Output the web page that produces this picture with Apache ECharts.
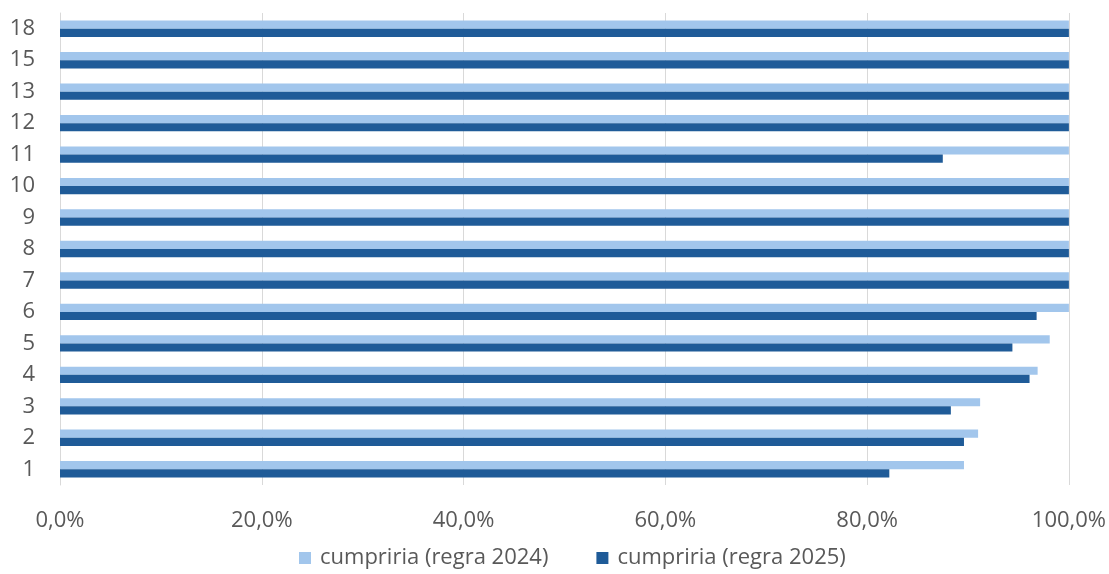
<!DOCTYPE html>
<html>
<head>
<meta charset="utf-8">
<script src="https://cdn.jsdelivr.net/npm/echarts@6/dist/echarts.min.js"></script>
<style>html,body{margin:0;padding:0;background:#fff}#c{width:1109px;height:574px}</style>
</head>
<body>
<div id="c"></div>
<script>
const categories = ['1','2','3','4','5','6','7','8','9','10','11','12','13','15','18'];
const rule2024 = [89.6, 91.0, 91.2, 96.9, 98.1, 100, 100, 100, 100, 100, 100, 100, 100, 100, 100];
const rule2025 = [82.2, 89.6, 88.3, 96.1, 94.4, 96.8, 100, 100, 100, 100, 87.5, 100, 100, 100, 100];
const xTicks = [0, 20, 40, 60, 80, 100];
const seriesNames = ['cumpriria (regra 2024)', 'cumpriria (regra 2025)'];

const chart = echarts.init(document.getElementById('c'));
const font = '"Open Sans", "Noto Sans", sans-serif';
chart.setOption({
  animation: false,
  textStyle: {fontFamily: font},
  grid: {left: 60, right: 40, top: 13, bottom: 89, containLabel: false},
  legend: {
    data: seriesNames,
    bottom: 0,
    left: 294,
    icon: 'rect',
    itemWidth: 12,
    itemHeight: 12,
    itemGap: 48,
    textStyle: {fontSize: 22, color: '#595959', fontFamily: font, padding: [0, 0, 0, 4]}
  },
  xAxis: {
    type: 'value',
    min: 0, max: 100, interval: 20,
    axisLine: {show: false},
    axisTick: {show: false},
    splitLine: {show: true, lineStyle: {color: '#d9d9d9', width: 1}},
    axisLabel: {
      fontSize: 22, color: '#595959', margin: 25, fontFamily: font,
      formatter: v => xTicks.includes(v) ? v.toFixed(1).replace('.', ',') + '%' : ''
    }
  },
  yAxis: {
    type: 'category',
    data: categories,
    axisLine: {show: true, lineStyle: {color: '#d9d9d9'}},
    axisTick: {show: false},
    axisLabel: {fontSize: 22, color: '#595959', margin: 25, fontFamily: font}
  },
  series: [
    {
      name: seriesNames[0], type: 'bar', data: rule2024,
      itemStyle: {color: '#a2c6ec'},
      barGap: '0%', barCategoryGap: '48%'
    },
    {
      name: seriesNames[1], type: 'bar', data: rule2025,
      itemStyle: {color: '#1f5b98'},
      barGap: '0%', barCategoryGap: '48%'
    }
  ]
});
</script>
</body>
</html>
